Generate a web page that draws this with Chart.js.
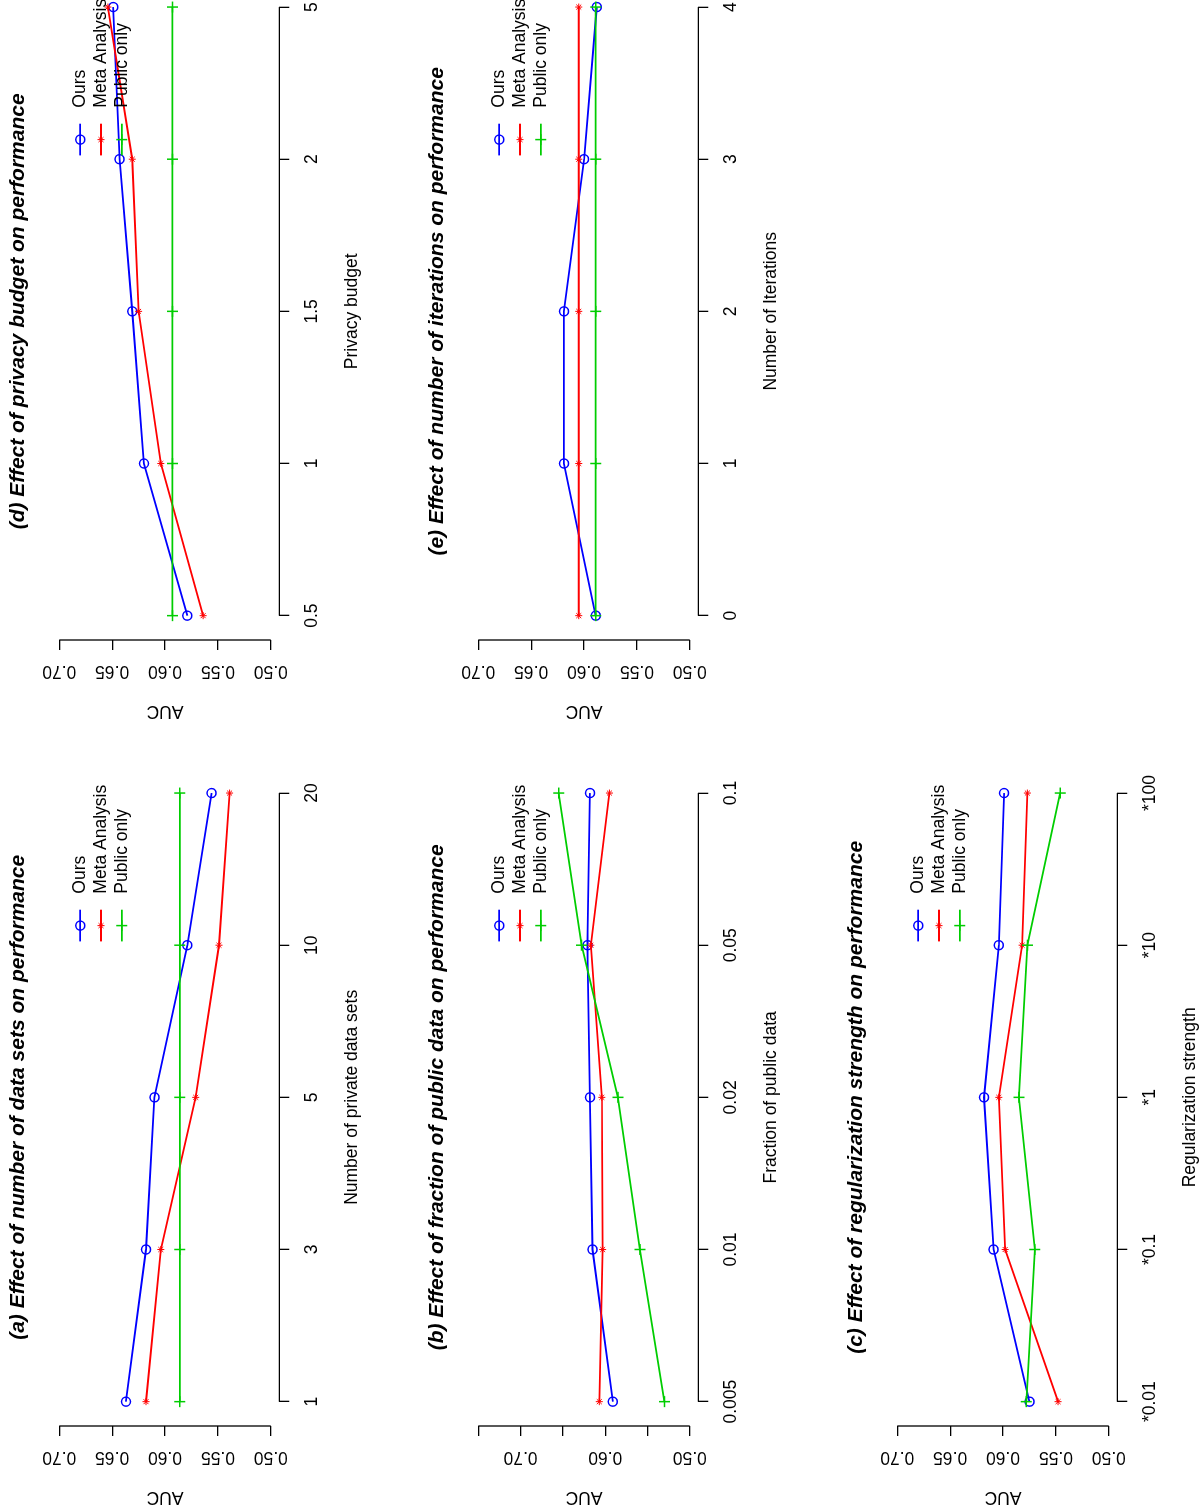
<!DOCTYPE html>
<html>
<head>
<meta charset="utf-8">
<title>AUC panels</title>
<script src="https://cdn.jsdelivr.net/npm/chart.js@4.4.1/dist/chart.umd.min.js"></script>
<style>
  html, body { margin: 0; padding: 0; background: #fff; width: 1200px; height: 1505px; overflow: hidden; }
  /* the whole sheet is laid out landscape and turned a quarter to the left */
  #sheet { position: absolute; left: 0; top: 0; width: 1572px; height: 1257px;
           transform-origin: 0 0; transform: translateY(1505px) rotate(-90deg); }
  .panel { position: absolute; width: 786px; height: 419px; }
</style>
</head>
<body>
<div id="sheet">
  <div class="panel" style="left:0;top:0"><canvas id="chart-a" width="786" height="419"></canvas></div>
  <div class="panel" style="left:786px;top:0"><canvas id="chart-d" width="786" height="419"></canvas></div>
  <div class="panel" style="left:0;top:419px"><canvas id="chart-b" width="786" height="419"></canvas></div>
  <div class="panel" style="left:786px;top:419px"><canvas id="chart-e" width="786" height="419"></canvas></div>
  <div class="panel" style="left:0;top:838px"><canvas id="chart-c" width="786" height="419"></canvas></div>
</div>
<script>
const seriesNames = ['Ours', 'Meta Analysis', 'Public only'];

const aucTicks = [0.50, 0.55, 0.60, 0.65, 0.70];
const aucLabels = ['0.50', '0.55', '0.60', '0.65', '0.70'];
const aucTicksB = [0.50, 0.55, 0.60, 0.65, 0.70, 0.75];
const aucLabelsB = ['0.50', '', '0.60', '', '0.70', ''];

// (a) number of private data sets
const labelsA = ['1', '3', '5', '10', '20'];
const oursA = [0.637, 0.618, 0.610, 0.579, 0.556];
const metaA = [0.618, 0.604, 0.571, 0.549, 0.539];
const publicA = [0.586, 0.586, 0.586, 0.586, 0.586];

// (b) fraction of public data
const labelsB = ['0.005', '0.01', '0.02', '0.05', '0.1'];
const oursB = [0.591, 0.615, 0.618, 0.621, 0.618];
const metaB = [0.607, 0.603, 0.604, 0.617, 0.595];
const publicB = [0.530, 0.559, 0.585, 0.628, 0.655];

// (c) regularization strength
const labelsC = ['*0.01', '*0.1', '*1', '*10', '*100'];
const oursC = [0.575, 0.609, 0.618, 0.604, 0.599];
const metaC = [0.548, 0.598, 0.604, 0.582, 0.577];
const publicC = [0.578, 0.570, 0.585, 0.577, 0.546];

// (d) privacy budget
const labelsD = ['0.5', '1', '1.5', '2', '5'];
const oursD = [0.579, 0.620, 0.631, 0.643, 0.649];
const metaD = [0.564, 0.604, 0.625, 0.631, 0.654];
const publicD = [0.593, 0.593, 0.593, 0.593, 0.593];

// (e) number of iterations
const labelsE = ['0', '1', '2', '3', '4'];
const oursE = [0.589, 0.619, 0.619, 0.600, 0.588];
const metaE = [0.605, 0.605, 0.605, 0.605, 0.605];
const publicE = [0.589, 0.589, 0.589, 0.589, 0.589];

const FONT = '"Liberation Sans", Arial, Helvetica, sans-serif';
const FS = 17.5;

const seriesStyle = [
  { color: '#0000ff', pointStyle: 'circle', radius: 4.5, border: 1.5, order: 3 },
  { color: '#ff0000', pointStyle: 'star', radius: 3.5, border: 1, order: 2 },
  { color: '#00cd00', pointStyle: 'cross', radius: 5.5, border: 1.5, order: 1 }
];

const panels = [
  { id: 'chart-a', title: '(a) Effect of number of data sets on performance', xTitle: 'Number of private data sets',
    labels: labelsA, series: [oursA, metaA, publicA], yTicks: aucTicks, yLabels: aucLabels },
  { id: 'chart-b', title: '(b) Effect of fraction of public data on performance', xTitle: 'Fraction of public data',
    labels: labelsB, series: [oursB, metaB, publicB], yTicks: aucTicksB, yLabels: aucLabelsB },
  { id: 'chart-c', title: '(c) Effect of regularization strength on performance', xTitle: 'Regularization strength',
    labels: labelsC, series: [oursC, metaC, publicC], yTicks: aucTicks, yLabels: aucLabels },
  { id: 'chart-d', title: '(d) Effect of privacy budget on performance', xTitle: 'Privacy budget',
    labels: labelsD, series: [oursD, metaD, publicD], yTicks: aucTicks, yLabels: aucLabels },
  { id: 'chart-e', title: '(e) Effect of number of iterations on performance', xTitle: 'Number of Iterations',
    labels: labelsE, series: [oursE, metaE, publicE], yTicks: aucTicks, yLabels: aucLabels }
];

function drawMarker(ctx, style, x, y) {
  ctx.save();
  ctx.strokeStyle = style.color;
  ctx.fillStyle = 'rgba(0,0,0,0)';
  ctx.lineWidth = style.border;
  Chart.helpers.drawPoint(ctx, { pointStyle: style.pointStyle, radius: style.radius, borderWidth: style.border, rotation: 0 }, x, y);
  ctx.restore();
}

// axis lines, rotated AUC labels, main title and legend, R style
const rDecor = {
  id: 'rDecor',
  afterDraw(chart, args, opts) {
    const { ctx, chartArea, scales } = chart;
    const xs = scales.x, ys = scales.y;
    ctx.save();
    ctx.strokeStyle = '#000';
    ctx.lineWidth = 1.3;
    ctx.beginPath();
    ctx.moveTo(xs.getPixelForValue(0), chartArea.bottom);
    ctx.lineTo(xs.getPixelForValue(opts.labels.length - 1), chartArea.bottom);
    ctx.moveTo(chartArea.left, ys.getPixelForValue(opts.yTicks[0]));
    ctx.lineTo(chartArea.left, ys.getPixelForValue(opts.yTicks[opts.yTicks.length - 1]));
    ctx.stroke();

    ctx.fillStyle = '#000';
    ctx.font = FS + 'px ' + FONT;
    ctx.textAlign = 'center';
    ctx.textBaseline = 'middle';
    opts.yTicks.forEach((v, i) => {
      if (!opts.yLabels[i]) return;
      ctx.save();
      ctx.translate(48, ys.getPixelForValue(v));
      ctx.rotate(-Math.PI / 2);
      ctx.fillText(opts.yLabels[i], 0, 0);
      ctx.restore();
    });

    ctx.font = 'italic bold 21px ' + FONT;
    ctx.fillText(opts.title, (chartArea.left + chartArea.right) / 2, 18);

    // legend, top right inside the plot
    ctx.font = FS + 'px ' + FONT;
    ctx.textAlign = 'left';
    const rows = [29.4, 50.2, 71.0];
    seriesNames.forEach((name, i) => {
      const st = seriesStyle[i];
      const y = chartArea.top + rows[i];
      ctx.strokeStyle = st.color;
      ctx.lineWidth = 1.8;
      ctx.beginPath();
      ctx.moveTo(chartArea.right - 172.7, y);
      ctx.lineTo(chartArea.right - 141, y);
      ctx.stroke();
      drawMarker(ctx, st, chartArea.right - 156.9, y);
      ctx.fillStyle = '#000';
      ctx.fillText(name, chartArea.right - 125, y);
    });
    ctx.restore();
  }
};

function makePanel(p) {
  const first = p.yTicks[0], last = p.yTicks[p.yTicks.length - 1];
  const ext = (last - first) * 0.04;
  const n = p.labels.length - 1;

  const datasets = p.series.map((values, i) => {
    const st = seriesStyle[i];
    return {
      label: seriesNames[i],
      data: values.map((v, j) => ({ x: j, y: v })),
      borderColor: st.color,
      backgroundColor: 'rgba(0,0,0,0)',
      borderWidth: 1.8,
      pointStyle: st.pointStyle,
      pointRadius: st.radius,
      pointBorderWidth: st.border,
      pointBorderColor: st.color,
      pointBackgroundColor: 'rgba(0,0,0,0)',
      tension: 0,
      fill: false,
      order: st.order
    };
  });

  const axisGrid = { drawOnChartArea: false, drawTicks: true, tickLength: 10, color: '#000', lineWidth: 1.3 };

  new Chart(document.getElementById(p.id), {
    type: 'line',
    data: { datasets: datasets },
    options: {
      responsive: false,
      animation: false,
      devicePixelRatio: 1,
      layout: { padding: { top: 50.8, right: 49.7, left: 0, bottom: 0 } },
      plugins: {
        legend: { display: false },
        tooltip: { enabled: false },
        rDecor: { title: p.title, labels: p.labels, yTicks: p.yTicks, yLabels: p.yLabels }
      },
      scales: {
        x: {
          type: 'linear',
          min: -0.04 * n,
          max: n * 1.04,
          afterBuildTicks: s => { s.ticks = p.labels.map((_, i) => ({ value: i })); },
          ticks: { callback: v => p.labels[v], color: '#000', font: { size: FS, family: FONT },
                   padding: 12, maxRotation: 0, minRotation: 0, autoSkip: false },
          grid: axisGrid,
          border: { display: false },
          title: { display: true, text: p.xTitle, color: '#000', font: { size: FS, family: FONT },
                   padding: { top: 0, bottom: 56 } },
          afterFit: s => { s.height = 139.7; }
        },
        y: {
          type: 'linear',
          min: first - ext,
          max: last + ext,
          afterBuildTicks: s => { s.ticks = p.yTicks.map(v => ({ value: v })); },
          ticks: { display: false },
          grid: axisGrid,
          border: { display: false },
          title: { display: true, text: 'AUC', color: '#000', font: { size: FS, family: FONT },
                   padding: { top: -2.5, bottom: 0 } },
          afterFit: s => { s.width = 79; }
        }
      }
    },
    plugins: [rDecor]
  });
}

panels.forEach(makePanel);
</script>
</body>
</html>
